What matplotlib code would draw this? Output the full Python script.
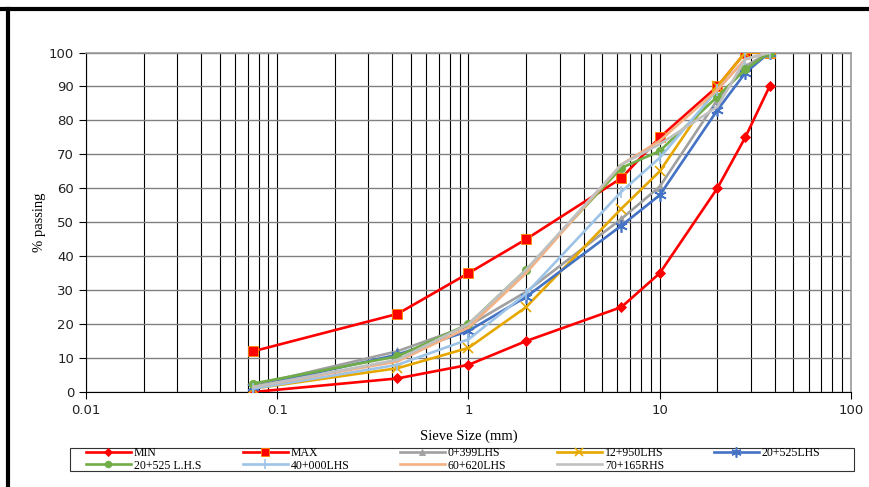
import numpy as np
import matplotlib
matplotlib.use("Agg")
import matplotlib.pyplot as plt
from matplotlib.patches import Rectangle
from matplotlib.ticker import FixedLocator, FixedFormatter, LogLocator, NullFormatter

# sieve sizes (mm)
sieves = [0.075, 0.425, 1, 2, 6.3, 10, 20, 28, 37.5]

# % passing per sample
p_min = [0, 4, 8, 15, 25, 35, 60, 75, 90]
p_max = [12, 23, 35, 45, 63, 75, 90, 100, 100]
p_0399 = [2, 12, 19.5, 29.5, 51, 60.5, 86, 96, 100]
p_12950 = [1, 7, 13, 25, 54, 65, 90, 100, 100]
p_20525 = [1.5, 11, 18, 28, 49, 58, 83, 94, 100]
p_20525b = [2.5, 10.5, 20, 36, 66, 71, 87, 95, 100]
p_40000 = [1, 8, 15.5, 29, 59, 69, 89, 98, 100]
p_60620 = [1.5, 9, 19, 35, 67, 74, 89, 98, 100]
p_70165 = [1.5, 9.5, 20, 36, 67, 73, 84, 98, 100]

series = [
    ("MIN", p_min, "#FF0000", "D", 5),
    ("MAX", p_max, "#FF0000", "s", 7),
    ("0+399LHS", p_0399, "#A0A0A0", "^", 6),
    ("12+950LHS", p_12950, "#E6A800", "x", 7),
    ("20+525LHS", p_20525, "#4472C4", (6, 2, 0), 9),
    ("20+525 L.H.S", p_20525b, "#70AD47", "o", 6),
    ("40+000LHS", p_40000, "#9DC3E6", "|", 9),
    ("60+620LHS", p_60620, "#F4B183", None, 0),
    ("70+165RHS", p_70165, "#C0C0C0", None, 0),
]

W, H = 870, 487
fig = plt.figure(figsize=(W / 100, H / 100), dpi=100)
ax = fig.add_axes([86 / W, 1 - 392 / H, (851 - 86) / W, (392 - 52.5) / H])

# outer frame pieces (top and left)
fig.add_artist(plt.Line2D([0, 1], [1 - 9 / H, 1 - 9 / H], color="black", lw=3,
                          transform=fig.transFigure))
fig.add_artist(plt.Line2D([8 / W, 8 / W], [0, 1 - 9 / H], color="black", lw=3,
                          transform=fig.transFigure))

lines = []
for name, vals, col, mk, ms in series:
    ln, = ax.plot(sieves, vals, color=col, lw=1.9, marker=mk, markersize=ms,
                  markeredgecolor=col if mk != "s" else "#FF8C00",
                  markeredgewidth=1.2 if mk in ("x", "|", (6, 2, 0)) else 0.6,
                  label=name, zorder=3)
    lines.append(ln)

ax.set_xscale("log")
ax.set_xlim(0.01, 100)
ax.set_ylim(0, 100)
ax.xaxis.set_major_locator(FixedLocator([0.01, 0.1, 1, 10, 100]))
ax.xaxis.set_major_formatter(FixedFormatter(["0.01", "0.1", "1", "10", "100"]))
ax.xaxis.set_minor_locator(LogLocator(base=10, subs=np.arange(2, 10)))
ax.xaxis.set_minor_formatter(NullFormatter())
ax.set_yticks(range(0, 101, 10))

ax.grid(True, which="both", axis="x", color="black", lw=0.8)
ax.grid(True, which="major", axis="y", color="#808080", lw=1.0)
ax.set_axisbelow(True)

ax.tick_params(axis="both", which="major", length=5, width=0.8, labelsize=9.5,
               color="black", labelcolor="#222222")
ax.tick_params(axis="x", which="minor", length=0)
for s in ("top", "right"):
    ax.spines[s].set_color("#999999")
    ax.spines[s].set_linewidth(1.2)
for s in ("left", "bottom"):
    ax.spines[s].set_color("black")
    ax.spines[s].set_linewidth(0.8)

ax.set_xlabel("Sieve Size (mm)", family="Liberation Serif", fontsize=10.5, labelpad=9)
ax.set_ylabel("% passing", family="Liberation Serif", fontsize=10.5, labelpad=2)

# legend: box plus one small legend per column, evenly spaced like Excel
fig.add_artist(Rectangle((70 / W, 1 - 471 / H), 784 / W, 23 / H, transform=fig.transFigure,
                         facecolor="white", edgecolor="#333333", lw=0.8, zorder=1))
for c in range(5):
    idx = [i for i in (c, c + 5) if i < len(series)]
    fig.legend([lines[i] for i in idx], [series[i][0] for i in idx],
               loc="upper left", bbox_to_anchor=((86 + 157 * c) / W, 1 - 447 / H),
               prop={"family": "Liberation Serif", "size": 8.5},
               handlelength=3.8, handletextpad=0.25, borderpad=0,
               labelspacing=0.05, frameon=False, borderaxespad=0, markerscale=0.8)

fig.savefig("out.png", dpi=100)
